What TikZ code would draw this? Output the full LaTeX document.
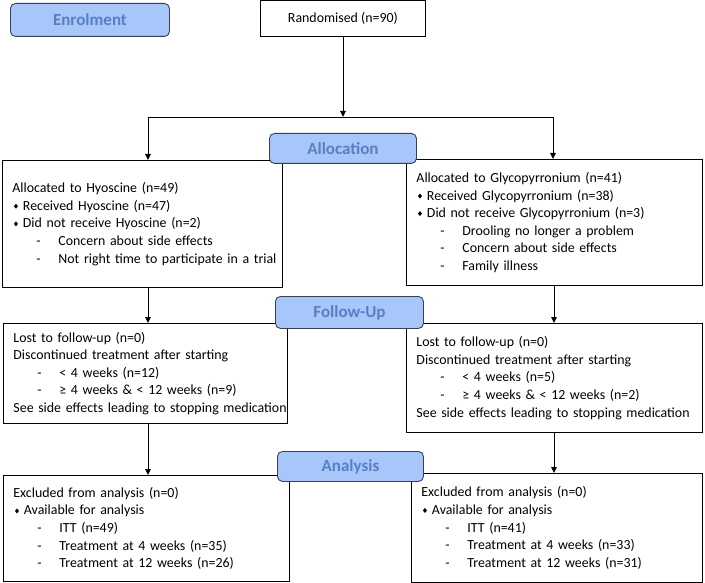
\documentclass[tikz,border=0pt]{standalone}
\usepackage{fontspec}
\setmainfont{Carlito}
\usetikzlibrary{arrows.meta}
\definecolor{phasefill}{RGB}{168,198,250}
\definecolor{phasetext}{RGB}{88,128,192}
\definecolor{phaseline}{RGB}{55,65,85}
\newcommand{\mybul}{\tikz[baseline=0pt,x=1pt,y=1pt]\fill (0,4) -- (2,6.5) -- (4,4) -- (2,1.5) -- cycle;}
\newcommand{\bitem}[1]{\mbox{\makebox[10.5pt][l]{\hspace{1.5pt}\mybul}#1}}
\newcommand{\ditem}[1]{\mbox{\makebox[46pt][l]{\hspace{24pt}-}#1}}
\newcommand{\pline}[1]{\mbox{#1}}
\begin{document}
\begin{tikzpicture}[x=1pt,y=-1pt,
  box/.style={draw, line width=0.9pt, inner xsep=10pt, inner ysep=0pt, align=left,
    anchor=north west, font=\fontsize{13.9}{17.6}\selectfont},
  phase/.style={draw=phaseline, fill=phasefill, line width=0.9pt, rounded corners=5pt,
    anchor=north west, inner sep=0pt, text=phasetext, font=\fontsize{17}{20}\selectfont\bfseries},
  conn/.style={line width=0.9pt},
  arr/.style={line width=0.9pt, -{Triangle[length=6pt,width=5.5pt]}}]
\useasboundingbox (0,0) rectangle (705,583);

% content boxes
\node[box, minimum width=165pt, minimum height=36pt, align=center] (rand) at (260,0) {Randomised (n=90)};

\node[box, minimum width=280pt, minimum height=127pt, text width=260pt] (L1) at (2,160) {%
\pline{Allocated to Hyoscine (n=49)}\\
\bitem{Received Hyoscine (n=47)}\\
\bitem{Did not receive Hyoscine (n=2)}\\
\ditem{Concern about side effects}\\
\ditem{Not right time to participate in a trial}};

\node[box, minimum width=296pt, minimum height=126pt, text width=276pt] (R1) at (406,159) {%
\pline{Allocated to Glycopyrronium (n=41)}\\
\bitem{Received Glycopyrronium (n=38)}\\
\bitem{Did not receive Glycopyrronium (n=3)}\\
\ditem{Drooling no longer a problem}\\
\ditem{Concern about side effects}\\
\ditem{Family illness}};

\node[box, minimum width=284pt, minimum height=100pt, text width=264pt] (L2) at (3,323) {%
\pline{Lost to follow-up (n=0)}\\
\pline{Discontinued treatment after starting}\\
\ditem{< 4 weeks (n=12)}\\
\ditem{≥ 4 weeks \& < 12 weeks (n=9)}\\
\pline{See side effects leading to stopping medication}};

\node[box, minimum width=296pt, minimum height=109pt, text width=276pt] (R2) at (406,323) {%
\pline{Lost to follow-up (n=0)}\\
\pline{Discontinued treatment after starting}\\
\ditem{< 4 weeks (n=5)}\\
\ditem{≥ 4 weeks \& < 12 weeks (n=2)}\\
\pline{See side effects leading to stopping medication}};

\node[box, minimum width=286pt, minimum height=106pt, text width=266pt] (L3) at (3,475) {%
\pline{Excluded from analysis (n=0)}\\
\bitem{Available for analysis}\\
\ditem{ITT (n=49)}\\
\ditem{Treatment at 4 weeks (n=35)}\\
\ditem{Treatment at 12 weeks (n=26)}};

\node[box, minimum width=291pt, minimum height=109pt, text width=271pt] (R3) at (411,473) {%
\pline{Excluded from analysis (n=0)}\\
\bitem{Available for analysis}\\
\ditem{ITT (n=41)}\\
\ditem{Treatment at 4 weeks (n=33)}\\
\ditem{Treatment at 12 weeks (n=31)}};

% connectors
\coordinate (split) at (343,117);
\coordinate (sL) at (148,117);
\coordinate (sR) at (553,117);
\coordinate (cL) at (148,0);
\coordinate (cR) at (554,0);
\draw[arr] (rand.south -| split) -- (split);
\draw[conn] (sL) -- (sR);
\draw[arr] (sL) -- (L1.north -| sL);
\draw[arr] (sR) -- (R1.north -| sR);
\draw[arr] (L1.south -| cL) -- (L2.north -| cL);
\draw[arr] (R1.south -| cR) -- (R2.north -| cR);
\draw[arr] (L2.south -| cL) -- (L3.north -| cL);
\draw[arr] (R2.south -| cR) -- (R3.north -| cR);

% phase labels
\node[phase, minimum width=159pt, minimum height=33pt] (enrol) at (10,3) {Enrolment};
\node[phase, minimum width=147pt, minimum height=30pt] (alloc) at (269,133) {Allocation};
\node[phase, minimum width=148pt, minimum height=32pt] (fu) at (275,296) {Follow-Up};
\node[phase, minimum width=146pt, minimum height=30pt] (an) at (277,451) {Analysis};
\end{tikzpicture}
\end{document}
